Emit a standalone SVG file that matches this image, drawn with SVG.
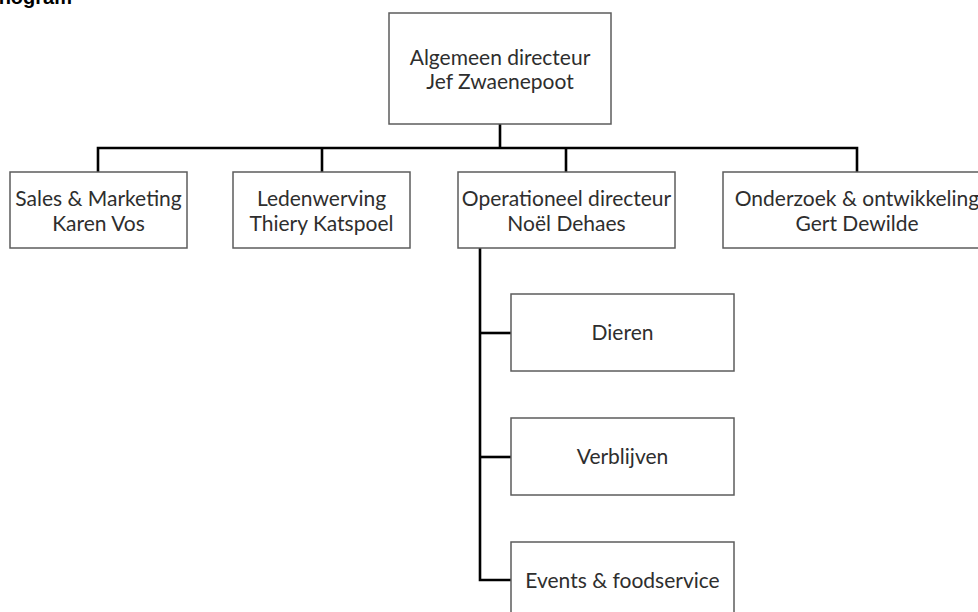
<svg xmlns="http://www.w3.org/2000/svg" width="978" height="612" viewBox="0 0 978 612">
  <style>
    .box { fill: #ffffff; stroke: #5c5c5c; stroke-width: 1.5; }
    .lbl { font-family: Lato, "Open Sans", "Liberation Sans", sans-serif; font-size: 21px; fill: #2e2e2e; text-anchor: middle; }
    .title { font-family: "Liberation Sans", Arial, sans-serif; font-weight: bold; font-size: 20px; fill: #000000; text-anchor: end; }
    .conn { fill: none; stroke: #000000; stroke-width: 2.6; stroke-linejoin: miter; stroke-linecap: butt; }
  </style>

  <rect width="978" height="612" fill="#ffffff"/>

  <!-- page heading, mostly above the top edge -->
  <text class="title" x="72" y="3.5">Organogram</text>

  <!-- connectors -->
  <g id="connectors">
    <path class="conn" d="M500,124 V148"/>
    <path class="conn" d="M98,172 V148 H857 V172"/>
    <path class="conn" d="M322,148 V172"/>
    <path class="conn" d="M566,148 V172"/>
    <path class="conn" d="M480,248 V580 H512"/>
    <path class="conn" d="M480,333 H511"/>
    <path class="conn" d="M480,457 H511"/>
  </g>

  <g id="node-algemeen-directeur">
    <rect class="box" x="389" y="13" width="222" height="111"/>
    <text class="lbl" x="500" y="65">Algemeen directeur</text>
    <text class="lbl" x="500" y="89">Jef Zwaenepoot</text>
  </g>

  <g id="node-sales-marketing">
    <rect class="box" x="10" y="172" width="177" height="76"/>
    <text class="lbl" x="98.5" y="206">Sales &amp; Marketing</text>
    <text class="lbl" x="98.5" y="231">Karen Vos</text>
  </g>

  <g id="node-ledenwerving">
    <rect class="box" x="233" y="172" width="177" height="76"/>
    <text class="lbl" x="321.5" y="206">Ledenwerving</text>
    <text class="lbl" x="321.5" y="231">Thiery Katspoel</text>
  </g>

  <g id="node-operationeel-directeur">
    <rect class="box" x="458" y="172" width="217" height="76"/>
    <text class="lbl" x="566.5" y="206">Operationeel directeur</text>
    <text class="lbl" x="566.5" y="231">Noël Dehaes</text>
  </g>

  <g id="node-onderzoek-ontwikkeling">
    <rect class="box" x="723" y="172" width="268" height="76"/>
    <text class="lbl" x="857" y="206">Onderzoek &amp; ontwikkeling</text>
    <text class="lbl" x="857" y="231">Gert Dewilde</text>
  </g>

  <g id="node-dieren">
    <rect class="box" x="511" y="294" width="223" height="77"/>
    <text class="lbl" x="622.5" y="340">Dieren</text>
  </g>

  <g id="node-verblijven">
    <rect class="box" x="511" y="418" width="223" height="77"/>
    <text class="lbl" x="622.5" y="464">Verblijven</text>
  </g>

  <g id="node-events-foodservice">
    <rect class="box" x="511" y="542" width="223" height="77"/>
    <text class="lbl" x="622.5" y="588">Events &amp; foodservice</text>
  </g>
</svg>
